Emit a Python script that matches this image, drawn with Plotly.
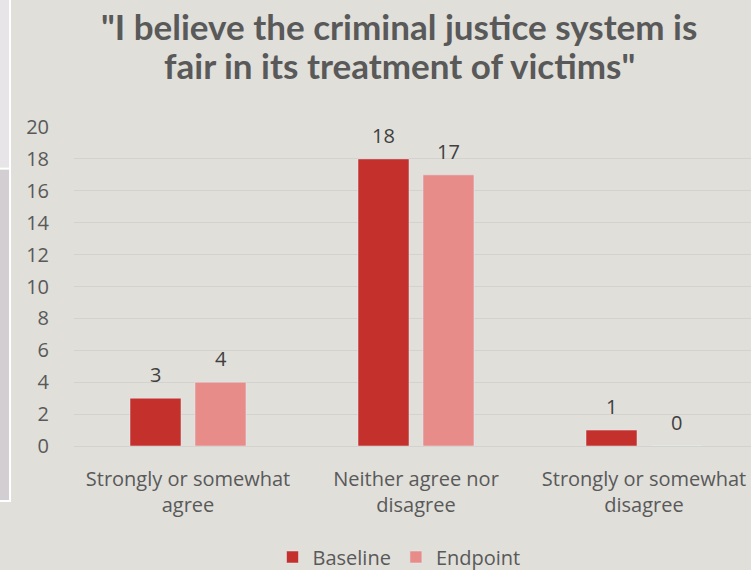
import plotly.graph_objects as go

# Survey responses
categories = ["Strongly or somewhat<br>agree", "Neither agree nor<br>disagree", "Strongly or somewhat<br>disagree"]
baseline = [3, 18, 1]
endpoint = [4, 17, 0]
y_ticks = list(range(0, 21, 2))
title_lines = ["\"I believe the criminal justice system is", "fair in its treatment of victims\""]

W, H = 751, 570
PLOT_L, PLOT_R, PLOT_T, PLOT_B = 74, 751, 127, 446

BG = "#E0DFDA"
TEXT = "#595959"
FONT = "Open Sans, Calibri, sans-serif"
TITLE_FONT = "Lato, Calibri, sans-serif"
C_BASE = "#C4302B"
C_END = "#E88C8A"


def px_x(x):
    return (x - PLOT_L) / (PLOT_R - PLOT_L)


def px_y(y):
    return (PLOT_B - y) / (PLOT_B - PLOT_T)


fig = go.Figure()
fig.add_trace(go.Bar(name="Baseline", x=list(range(3)), y=baseline, marker_color=C_BASE))
fig.add_trace(go.Bar(name="Endpoint", x=list(range(3)), y=endpoint, marker_color=C_END))

# value labels above each bar
annotations = []
for vals, shift in ((baseline, -32.5), (endpoint, 32.5)):
    for i, v in enumerate(vals):
        annotations.append(dict(
            x=i, y=v, xref="x", yref="y", text=str(v), showarrow=False,
            xshift=shift, yshift=8, yanchor="bottom",
            font=dict(family=FONT, size=20, color="#404040"),
        ))

# two-line title, each line placed on its own for tighter leading
for line, top in zip(title_lines, (3, 42)):
    annotations.append(dict(
        x=px_x(399), y=px_y(top), xref="paper", yref="paper", yanchor="top",
        text=f"<b>{line}</b>", showarrow=False,
        font=dict(family=TITLE_FONT, size=35, color=TEXT),
    ))

# slide panel edge on the left side
shapes = [
    dict(type="rect", xref="paper", yref="paper", x0=px_x(0), x1=px_x(9), y0=px_y(0), y1=px_y(167),
         fillcolor="#E7E5E7", line_width=0, layer="below"),
    dict(type="rect", xref="paper", yref="paper", x0=px_x(0), x1=px_x(9), y0=px_y(170), y1=px_y(500),
         fillcolor="#D2CED1", line_width=0, layer="below"),
    dict(type="line", xref="paper", yref="paper", x0=px_x(10), x1=px_x(10), y0=px_y(0), y1=px_y(501),
         line=dict(color="white", width=2), layer="below"),
    dict(type="line", xref="paper", yref="paper", x0=px_x(0), x1=px_x(10), y0=px_y(168.5), y1=px_y(168.5),
         line=dict(color="white", width=2), layer="below"),
    dict(type="line", xref="paper", yref="paper", x0=px_x(0), x1=px_x(11), y0=px_y(501), y1=px_y(501),
         line=dict(color="white", width=2), layer="below"),
]

fig.update_layout(
    width=W, height=H,
    margin=dict(l=PLOT_L, r=W - PLOT_R, t=PLOT_T, b=H - PLOT_B, autoexpand=False),
    paper_bgcolor=BG, plot_bgcolor=BG,
    barmode="group", bargap=0.43, bargroupgap=0.215,
    font=dict(family=FONT, size=20, color=TEXT),
    showlegend=True,
    legend=dict(orientation="h", x=px_x(399), y=px_y(557), xanchor="center", yanchor="middle",
                font=dict(family=FONT, size=20, color=TEXT), bgcolor="rgba(0,0,0,0)"),
    annotations=annotations,
    shapes=shapes,
)
fig.update_xaxes(
    tickmode="array", tickvals=list(range(3)), ticktext=categories,
    range=[-0.5, -0.5 + (PLOT_R - PLOT_L) / 228.0],
    showgrid=False, zeroline=False, showline=False, automargin=False,
    ticks="outside", ticklen=15, tickcolor="rgba(0,0,0,0)",
    tickfont=dict(family=FONT, size=20, color=TEXT),
)
fig.update_yaxes(
    range=[0, 20], tickvals=y_ticks, automargin=False,
    showgrid=True, gridcolor="#D3D2CF", gridwidth=1,
    zeroline=True, zerolinecolor="#D3D2CF", zerolinewidth=1,
    ticks="outside", ticklen=20, tickcolor="rgba(0,0,0,0)",
    tickfont=dict(family=FONT, size=20, color=TEXT),
)

fig.write_html("out.html")
